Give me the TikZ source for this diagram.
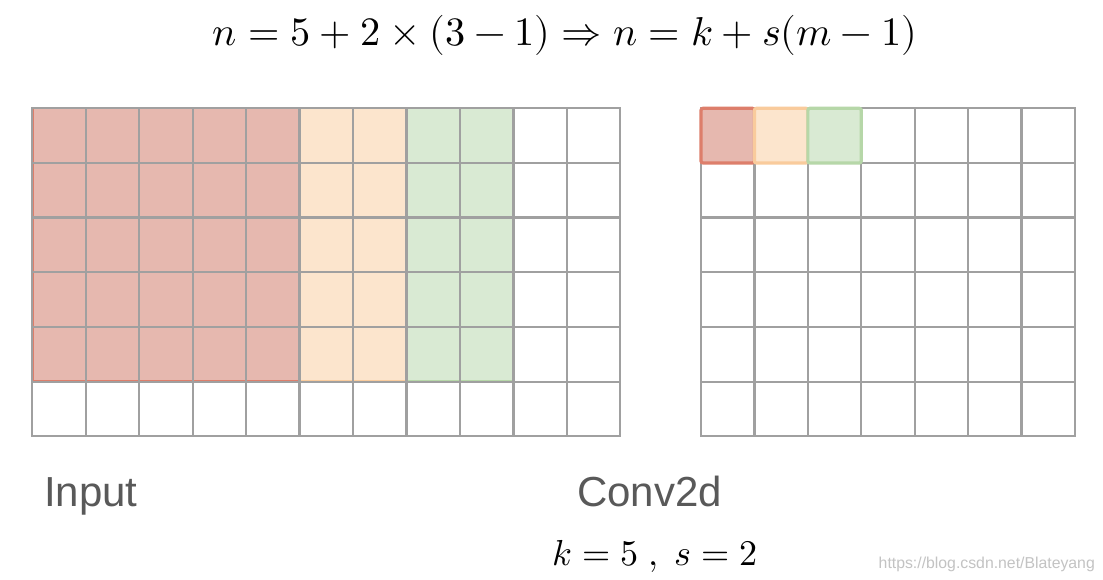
\documentclass[tikz,border=0pt]{standalone}
\usepackage{fontspec}
\setmainfont{Liberation Sans}
\usepackage{unicode-math}
\setmathfont{Latin Modern Math}
\definecolor{gridgray}{RGB}{160,160,160}
\definecolor{redfill}{HTML}{E6B8AF}
\definecolor{redline}{HTML}{DD7E6B}
\definecolor{orfill}{HTML}{FCE5CD}
\definecolor{orline}{HTML}{F9CB9C}
\definecolor{grfill}{HTML}{D9EAD3}
\definecolor{grline}{HTML}{B6D7A8}
\definecolor{txtgray}{HTML}{595959}
\definecolor{wmgray}{RGB}{195,195,195}
\begin{document}
\begin{tikzpicture}[x=1pt,y=-1pt,
  gridline/.style={draw=gridgray,line width=2.3pt,line cap=rect},
  lregion/.style={line width=1.2pt},
  rcell/.style={line width=3.2pt,rounded corners=2pt},
  label/.style={inner sep=0pt,anchor=base west,text=txtgray,font=\fontsize{42}{48}\selectfont}]
\useasboundingbox (0,0) rectangle (1103,580);
\fill[white] (0,0) rectangle (1103,580);
% grid parameters
\def\lx{32.3}\def\ty{108.3}\def\cw{53.45}\def\ch{54.67}
\def\rx{701}\def\rw{53.43}
% left colored regions
\path[lregion,fill=redfill,draw=redline] ({\lx+0.6},{\ty+0.6}) rectangle ({\lx+5*\cw-0.6},{\ty+5*\ch-0.9});
\path[lregion,fill=orfill,draw=orline] ({\lx+5*\cw+0.6},{\ty+0.6}) rectangle ({\lx+7*\cw-0.6},{\ty+5*\ch-0.9});
\path[lregion,fill=grfill,draw=grline] ({\lx+7*\cw+0.6},{\ty+0.6}) rectangle ({\lx+9*\cw-0.6},{\ty+5*\ch-0.9});
% left grid lines
\foreach \i in {0,...,11} \draw[gridline] ({\lx+\i*\cw},\ty) -- ({\lx+\i*\cw},{\ty+6*\ch});
\foreach \j in {0,...,6} \draw[gridline] (\lx,{\ty+\j*\ch}) -- ({\lx+11*\cw},{\ty+\j*\ch});
% right grid lines
\foreach \i in {0,...,7} \draw[gridline] ({\rx+\i*\rw},\ty) -- ({\rx+\i*\rw},{\ty+6*\ch});
\foreach \j in {0,...,6} \draw[gridline] (\rx,{\ty+\j*\ch}) -- ({\rx+7*\rw},{\ty+\j*\ch});
% right colored cells
\path[rcell,fill=redfill,draw=redline] (\rx,\ty) rectangle ({\rx+\rw},{\ty+\ch});
\path[rcell,fill=orfill,draw=orline] ({\rx+\rw},\ty) rectangle ({\rx+2*\rw},{\ty+\ch});
\path[rcell,fill=grfill,draw=grline] ({\rx+2*\rw},\ty) rectangle ({\rx+3*\rw},{\ty+\ch});
% texts
\node[inner sep=0pt,anchor=center] (eq) at (565,35) {\resizebox{704pt}{!}{$n=5+2\times(3-1)\Rightarrow n=k+s(m-1)$}};
\node[label] (input) at (44,506) {Input};
\node[label] (conv) at (577,506) {Conv2d};
\node[inner sep=0pt,anchor=center] (ks) at (655.5,556) {\resizebox{205pt}{!}{$k=5\ ,\ s=2$}};
\node[inner sep=0pt,anchor=base east,text=wmgray,font=\fontsize{15.8}{18}\selectfont] (wm) at (1095,568) {https://blog.csdn.net/Blateyang};
\end{tikzpicture}
\end{document}
